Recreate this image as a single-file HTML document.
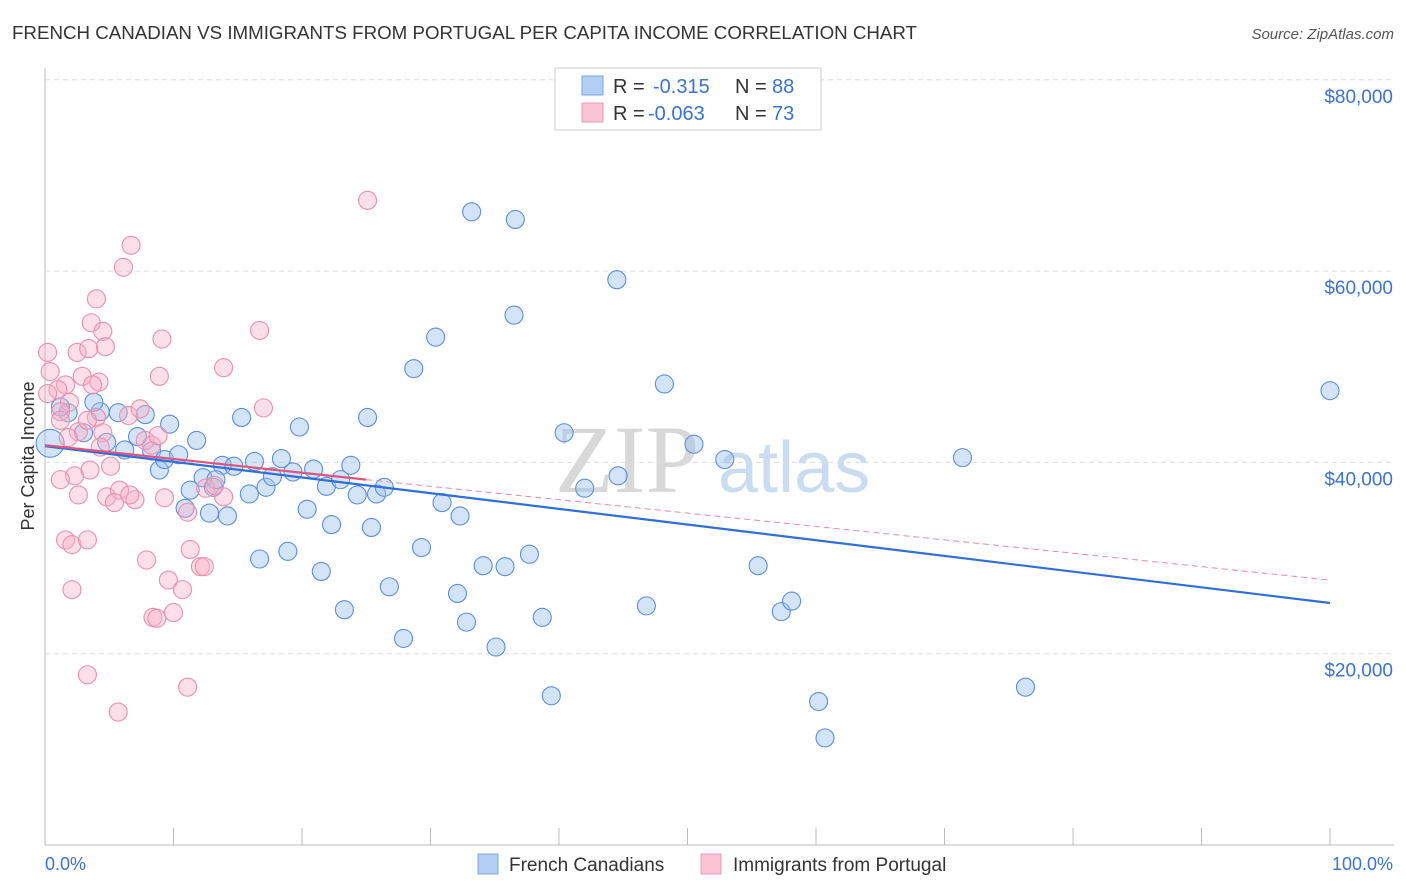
<!DOCTYPE html>
<html><head><meta charset="utf-8"><style>
body{margin:0;background:#fff;font-family:"Liberation Sans",sans-serif;}
#wrap{position:relative;width:1406px;height:892px;overflow:hidden}
</style></head><body>
<div id="wrap">
<svg id="svg" width="1406" height="892" xmlns="http://www.w3.org/2000/svg">
<text x="12" y="39" font-size="18" fill="#333" textLength="905" lengthAdjust="spacingAndGlyphs">FRENCH CANADIAN VS IMMIGRANTS FROM PORTUGAL PER CAPITA INCOME CORRELATION CHART</text>
<text x="1394" y="39" font-size="15" fill="#555" font-style="italic" text-anchor="end">Source: ZipAtlas.com</text>
<text x="34" y="456" font-size="18" fill="#333" text-anchor="middle" transform="rotate(-90 34 456)">Per Capita Income</text>
<text x="555" y="492" font-size="96" fill="#d8d8d8" font-family="Liberation Serif,serif">ZIP</text>
<text x="718" y="492" font-size="72" fill="#c9dcf2">atlas</text>
<g id="grid"></g><g id="pts"></g><g id="lines"></g>
<g>
<rect x="555" y="68" width="266" height="62" fill="#fff" stroke="#ccc"/>
<rect x="582" y="76" width="21" height="19" fill="#b5cff3" stroke="#7aa6e0"/>
<rect x="582" y="103" width="21" height="19" fill="#f9c5d4" stroke="#ec9ab4"/>
<text x="613" y="93" font-size="20" fill="#333">R = </text><text x="653" y="93" font-size="20" fill="#3a73d0">-0.315</text>
<text x="735" y="93" font-size="20" fill="#333">N = </text><text x="772" y="93" font-size="20" fill="#3a73d0">88</text>
<text x="613" y="120" font-size="20" fill="#333">R = </text><text x="648" y="120" font-size="20" fill="#3a73d0">-0.063</text>
<text x="735" y="120" font-size="20" fill="#333">N = </text><text x="772" y="120" font-size="20" fill="#3a73d0">73</text>
</g>
<g>
<rect x="478" y="854" width="20" height="20" fill="#b5cff3" stroke="#7aa6e0"/>
<text x="509" y="871" font-size="19" fill="#333">French Canadians</text>
<rect x="701" y="854" width="20" height="20" fill="#f9c5d4" stroke="#ec9ab4"/>
<text x="733" y="871" font-size="19" fill="#333">Immigrants from Portugal</text>
</g>
<text x="45" y="870" font-size="18" fill="#3a73d0">0.0%</text>
<text x="1393" y="870" font-size="18" fill="#3a73d0" text-anchor="end">100.0%</text>
</svg>
</div>
<script>
const yTicks=[20000,40000,60000,80000];
const yTickLabels=["$20,000","$40,000","$60,000","$80,000"];
const blueX=[33.2,36.6,44.5,36.5,30.4,28.7,48.2,100,71.4,52.9,50.5,40.4,44.6,42.0,25.1,19.8,15.3,11.8,9.7,7.8,5.7,4.3,3.8,1.8,1.2,0.4,3.0,4.8,6.2,7.2,8.3,8.9,9.3,10.4,11.3,12.3,13.1,12.8,14.2,13.8,14.7,15.9,16.3,17.2,17.7,18.4,19.3,20.9,21.9,23.0,23.8,24.3,25.8,26.4,20.4,22.3,25.4,30.9,32.3,29.3,26.8,21.5,23.3,18.9,16.7,27.9,32.1,32.8,34.1,35.1,35.8,37.7,38.7,39.4,46.8,55.5,57.3,58.1,60.2,60.7,76.3,10.9,13.3];
const blueY=[66.2,65.4,59.1,55.4,53.1,49.8,48.2,47.5,40.5,40.3,41.9,43.1,38.6,37.3,44.7,43.7,44.7,42.3,44.0,45.0,45.2,45.3,46.3,45.2,45.8,42.0,43.1,42.1,41.3,42.7,41.2,39.2,40.3,40.8,37.1,38.4,37.4,34.7,34.4,39.7,39.6,36.7,40.1,37.4,38.5,40.4,39.0,39.3,37.5,38.2,39.7,36.6,36.7,37.4,35.1,33.5,33.2,35.8,34.4,31.1,27.0,28.6,24.6,30.7,29.9,21.6,26.3,23.3,29.2,20.7,29.1,30.4,23.8,15.6,25.0,29.2,24.4,25.5,15.0,11.2,16.5,35.2,38.2];
const pinkX=[25.1,6.7,6.1,4.0,3.6,4.5,16.7,9.1,0.2,2.5,3.4,4.7,13.9,8.9,0.4,2.9,4.2,3.7,1.6,1.0,17.0,0.2,1.9,1.2,4.0,6.5,7.8,2.6,1.8,4.5,8.3,8.8,5.1,4.3,3.5,2.3,1.2,2.6,4.8,5.8,5.4,7.0,9.3,11.1,13.9,12.5,6.6,1.6,2.1,3.3,7.9,11.3,9.6,10.7,12.1,12.4,8.4,8.7,10.0,2.1,3.3,5.7,11.1,1.2,7.4,3.3,13.2];
const pinkY=[67.4,62.7,60.4,57.1,54.6,53.7,53.8,52.9,51.5,51.5,51.9,52.1,49.9,49.0,49.5,49.0,48.4,48.1,48.1,47.6,45.7,47.2,46.3,45.3,44.7,44.9,42.3,43.2,42.6,43.1,41.8,42.8,39.6,41.6,39.2,38.6,38.2,36.6,36.4,37.1,35.8,36.1,36.3,34.8,36.4,37.3,36.6,31.9,31.4,31.9,29.8,30.9,27.7,26.7,29.1,29.1,23.8,23.7,24.3,26.7,17.8,13.9,16.5,44.4,45.6,44.4,37.6];
const blueTrend=[[0,41.7],[100,25.3]];
const pinkTrendSolid=[[0,41.8],[25,38.2]];
const pinkTrendDash=[[25,38.2],[100,27.7]];
const NS="http://www.w3.org/2000/svg";
const sx=p=>45+p*12.85;
const sy=v=>845-v*9.565;
const grid=document.getElementById('grid'),pts=document.getElementById('pts'),lines=document.getElementById('lines'),svg=document.getElementById('svg');
function mk(tag,attrs,parent){const e=document.createElementNS(NS,tag);for(const k in attrs)e.setAttribute(k,attrs[k]);parent.appendChild(e);return e;}
mk('line',{x1:45,y1:68,x2:45,y2:845,stroke:'#bbb'},grid);
mk('line',{x1:45,y1:845,x2:1394,y2:845,stroke:'#bbb'},grid);
for(let i=1;i<=10;i++){const x=45+i*128.5;mk('line',{x1:x,y1:828,x2:x,y2:845,stroke:'#bbb'},grid);}
yTicks.forEach((t,i)=>{const y=sy(t/1000);
 const g=mk('line',{x1:45,y1:y,x2:1394,y2:y,stroke:'#ddd','stroke-dasharray':'5,4'},grid);
 
 
 const tx=mk('text',{x:1393,y:y+23,'font-size':19,fill:'#3a73d0','text-anchor':'end'},svg);
 tx.textContent=yTickLabels[i];
 
 
});
blueX.forEach((x,i)=>{const c=mk('circle',{cx:sx(x),cy:sy(blueY[i]),r:(i==25?14:9),fill:'rgba(160,195,240,0.45)',stroke:'#5b8fdc','stroke-width':1.1},pts);
 
 });
pinkX.forEach((x,i)=>{const c=mk('circle',{cx:sx(x),cy:sy(pinkY[i]),r:9,fill:'rgba(247,175,198,0.4)',stroke:'#ec8fae','stroke-width':1.1},pts);
 
 });
const l1=mk('line',{x1:sx(blueTrend[0][0]),y1:sy(blueTrend[0][1]),x2:sx(blueTrend[1][0]),y2:sy(blueTrend[1][1]),stroke:'#2f6fd6','stroke-width':2.2},lines);


const l2=mk('line',{x1:sx(pinkTrendSolid[0][0]),y1:sy(pinkTrendSolid[0][1]),x2:sx(pinkTrendSolid[1][0]),y2:sy(pinkTrendSolid[1][1]),stroke:'#e0557f','stroke-width':2.2},lines);


const l3=mk('line',{x1:sx(pinkTrendDash[0][0]),y1:sy(pinkTrendDash[0][1]),x2:sx(pinkTrendDash[1][0]),y2:sy(pinkTrendDash[1][1]),stroke:'#e88aa6','stroke-width':1,'stroke-dasharray':'6,4'},lines);


</script>
</body></html>
